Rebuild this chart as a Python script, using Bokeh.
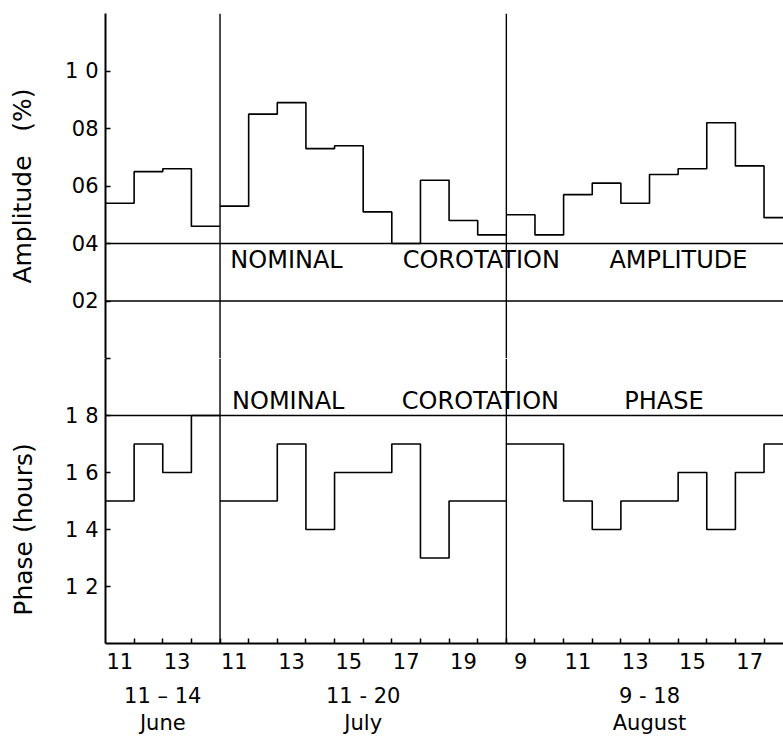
import math
from bokeh.plotting import figure
from bokeh.layouts import column
from bokeh.models import FixedTicker, Span, Label, LinearAxis
from bokeh.embed import file_html
from bokeh.resources import INLINE

# ---------------- data ----------------
period_names = ["June", "July", "August"]
period_ranges = ["11 \u2013 14", "11 - 20", "9 - 18"]
june_days = [11, 12, 13, 14]
july_days = [11, 12, 13, 14, 15, 16, 17, 18, 19, 20]
aug_days = [9, 10, 11, 12, 13, 14, 15, 16, 17, 18]

june_amp = [0.54, 0.65, 0.66, 0.46]
july_amp = [0.53, 0.85, 0.89, 0.73, 0.74, 0.51, 0.40, 0.62, 0.48, 0.43]
aug_amp = [0.50, 0.43, 0.57, 0.61, 0.54, 0.64, 0.66, 0.82, 0.67, 0.49]

june_phase = [15, 17, 16, 18]
july_phase = [15, 15, 17, 14, 16, 16, 17, 13, 15, 15]
aug_phase = [17, 17, 15, 14, 15, 15, 16, 14, 16, 17]

nominal_amp = 0.4
lower_amp_ref = 0.2
nominal_phase = 18

amp_ticks = [0.0, 0.2, 0.4, 0.6, 0.8, 1.0]
amp_tick_labels = ["", "02", "04", "06", "08", "1 0"]
phase_ticks = [12, 14, 16, 18, 20]
phase_tick_labels = ["1 2", "1 4", "1 6", "1 8", ""]

amp_title = "Amplitude\u00a0\u00a0\u00a0(%)"
phase_title = "Phase (hours)"
amp_texts = ["NOMINAL", "COROTATION", "AMPLITUDE"]
phase_texts = ["NOMINAL", "COROTATION", "PHASE"]

# ---------------- layout ----------------
FONT = "DejaVu Sans"
W = 783
X_END = 23.68
periods = [(june_days, june_amp, june_phase),
           (july_days, july_amp, july_phase),
           (aug_days, aug_amp, aug_phase)]
starts = []
s = 0
for d, _, _ in periods:
    starts.append(s)
    s += len(d)
boundaries = starts[1:]


def style(p):
    p.grid.visible = False
    p.outline_line_color = None
    p.background_fill_color = "white"
    p.border_fill_color = "white"
    for ax in p.yaxis:
        ax.axis_line_width = 2
        ax.axis_line_color = "black"
        ax.major_tick_in = 5
        ax.major_tick_out = 0
        ax.major_tick_line_width = 1.5
        ax.minor_tick_line_color = None
        ax.major_label_text_font = FONT
        ax.major_label_text_font_size = "21px"
        ax.major_label_text_color = "black"
        ax.major_label_standoff = 7


def title_axis(p, loc, text, standoff):
    ax = LinearAxis(ticker=FixedTicker(ticks=[loc]),
                    major_label_overrides={loc: text},
                    major_label_orientation="parallel",
                    axis_line_color=None, major_tick_line_color=None,
                    minor_tick_line_color=None,
                    major_label_text_font=FONT,
                    major_label_text_font_size="25px",
                    major_label_text_color="black",
                    major_label_standoff=standoff)
    p.add_layout(ax, "left")


top = figure(width=W, height=358, x_range=(0, X_END), y_range=(0, 1.2),
             x_axis_location=None, output_backend="svg", toolbar_location=None,
             min_border_left=105, min_border_right=0, min_border_top=13,
             min_border_bottom=0)
bot = figure(width=W, height=380, x_range=top.x_range, y_range=(10, 20),
             output_backend="svg", toolbar_location=None,
             min_border_left=105, min_border_right=0, min_border_top=0,
             min_border_bottom=95)
style(top)
style(bot)

top.yaxis[0].ticker = FixedTicker(ticks=amp_ticks)
top.yaxis[0].major_label_overrides = {t: l for t, l in zip(amp_ticks, amp_tick_labels)}
bot.yaxis[0].ticker = FixedTicker(ticks=phase_ticks)
bot.yaxis[0].major_label_overrides = {t: l for t, l in zip(phase_ticks, phase_tick_labels)}
title_axis(top, 0.6, amp_title, 20)
title_axis(bot, 14, phase_title, 19)

# x axis: labels at day centres (every 2nd day), ticks at day boundaries
centers, labels = [], []
for (days, _, _), st in zip(periods, starts):
    for i, d in enumerate(days):
        if i % 2 == 0:
            centers.append(st + i + 0.5)
            labels.append(str(d))
minor = list(range(1, s))
xa = bot.xaxis[0]
xa.ticker = FixedTicker(ticks=centers, minor_ticks=minor)
xa.major_label_overrides = {c: l for c, l in zip(centers, labels)}
xa.major_tick_in = 0
xa.major_tick_out = 0
xa.minor_tick_in = 5
xa.minor_tick_out = 0
xa.minor_tick_line_width = 1.5
xa.minor_tick_line_color = "black"
xa.axis_line_width = 2
xa.axis_line_color = "black"
xa.major_label_text_font = FONT
xa.major_label_text_font_size = "21px"
xa.major_label_text_color = "black"
xa.major_label_standoff = 9

# period labels as an extra label-only axis (two lines each)
pcenters = [st + len(d) / 2.0 for (d, _, _), st in zip(periods, starts)]
ptexts = [r + "\n" + n for r, n in zip(period_ranges, period_names)]
pax = LinearAxis(ticker=FixedTicker(ticks=pcenters),
                 major_label_overrides={c: t for c, t in zip(pcenters, ptexts)},
                 axis_line_color=None, major_tick_line_color=None,
                 minor_tick_line_color=None,
                 major_label_text_font=FONT,
                 major_label_text_font_size="21px",
                 major_label_text_line_height=1.15,
                 major_label_text_color="black",
                 major_label_standoff=6)
bot.add_layout(pax, "below")

# steps
for (days, amp, ph), st in zip(periods, starts):
    xs = [st + i for i in range(len(days) + 1)]
    top.step(xs, list(amp) + [amp[-1]], mode="after", line_color="black", line_width=1.6)
    bot.step(xs, list(ph) + [ph[-1]], mode="after", line_color="black", line_width=1.6)

# reference lines
for loc in (nominal_amp, lower_amp_ref):
    top.add_layout(Span(location=loc, dimension="width", line_color="black", line_width=1.6))
bot.add_layout(Span(location=nominal_phase, dimension="width", line_color="black", line_width=1.6))
for b in boundaries:
    top.add_layout(Span(location=b, dimension="height", line_color="black", line_width=1.4))
    bot.add_layout(Span(location=b, dimension="height", line_color="black", line_width=1.4))

# in-plot texts
for t, x in zip(amp_texts, [4.36, 10.38, 17.6]):
    top.add_layout(Label(x=x, y=nominal_amp - 0.058, text=t, text_font=FONT,
                         text_font_size="24px", text_color="black",
                         text_baseline="middle", text_align="left"))
for t, x in zip(phase_texts, [4.42, 10.35, 18.12]):
    bot.add_layout(Label(x=x, y=nominal_phase + 0.5, text=t, text_font=FONT,
                         text_font_size="24px", text_color="black",
                         text_baseline="middle", text_align="left"))

layout = column(top, bot, spacing=0)
open("out.html", "w").write(file_html(layout, INLINE))
